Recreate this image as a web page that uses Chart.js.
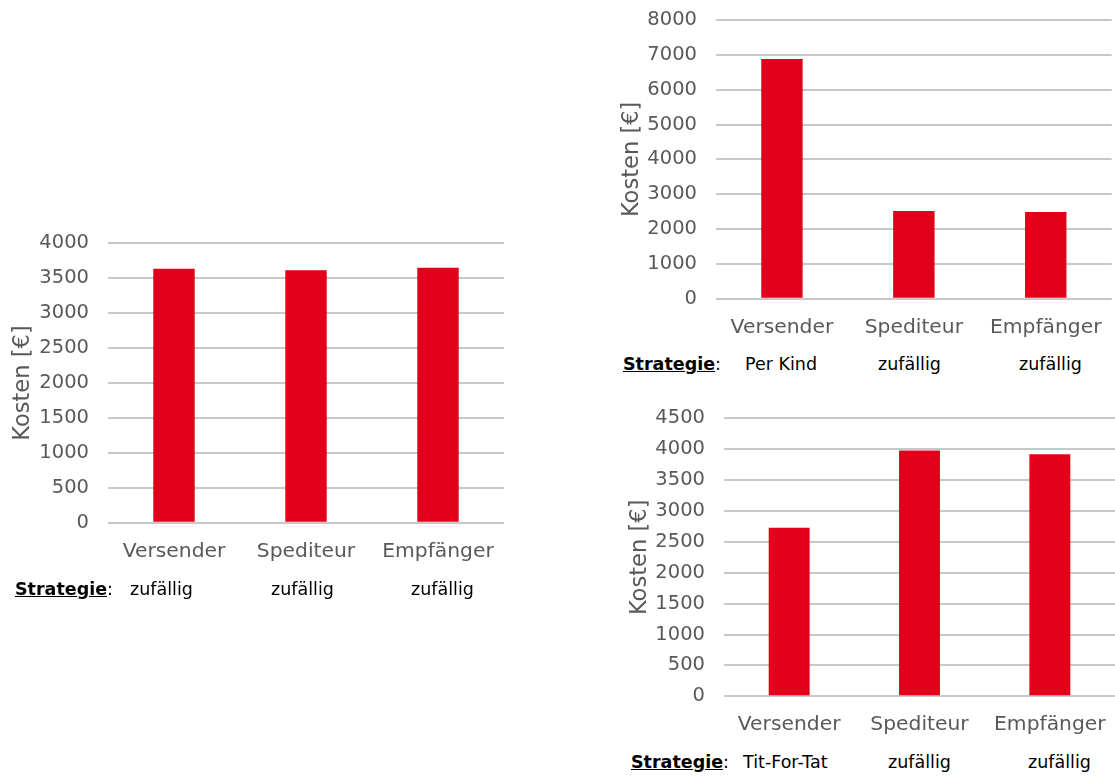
<!DOCTYPE html>
<html>
<head>
<meta charset="utf-8">
<title>Kosten je Akteur und Strategie</title>
<script src="https://cdn.jsdelivr.net/npm/chart.js@4/dist/chart.umd.min.js"></script>
<style>
  html, body { margin: 0; padding: 0; background: #ffffff; }
  body { position: relative; width: 1115px; height: 776px; overflow: hidden;
         font-family: "DejaVu Sans", Verdana, sans-serif; }
  canvas { position: absolute; }
  .strat { position: absolute; font-size: 17.5px; line-height: 20px; color: #000;
           white-space: nowrap; }
  .strat b { text-decoration: underline; }
</style>
</head>
<body>
<canvas id="chartZufall" width="510" height="400" style="left:0;top:200px;width:510px;height:400px"></canvas>
<canvas id="chartPerKind" width="505" height="345" style="left:610px;top:0;width:505px;height:345px"></canvas>
<canvas id="chartTitForTat" width="505" height="360" style="left:610px;top:390px;width:505px;height:360px"></canvas>

<script>
// Akteure der Lieferkette
const categories = ['Versender', 'Spediteur', 'Empfänger'];

// Kosten in Euro je Akteur, für drei Strategie-Kombinationen
const kostenZufall     = [3635, 3615, 3650];
const kostenPerKind    = [6880, 2520, 2490];
const kostenTitForTat  = [2730, 3980, 3920];

// Strategie je Akteur
const strategienZufall    = ['zufällig', 'zufällig', 'zufällig'];
const strategienPerKind   = ['Per Kind', 'zufällig', 'zufällig'];
const strategienTitForTat = ['Tit-For-Tat', 'zufällig', 'zufällig'];

// Achsenskalen (Maximum, Schrittweite)
const yMaxZufall = 4000,    yStepZufall = 500;
const yMaxPerKind = 8000,   yStepPerKind = 1000;
const yMaxTitForTat = 4500, yStepTitForTat = 500;

const FONT = '"DejaVu Sans", Verdana, sans-serif';
const GREY = '#595959';
const RED = '#e2001a';

// Geometrie der drei Diagramme
const panels = [
  { id: 'chartZufall', values: kostenZufall, strategies: strategienZufall,
    max: yMaxZufall, step: yStepZufall,
    axisWidth: 108, padTop: 43.3, padRight: 6, xHeight: 77.3, titlePad: 9.5,
    stratTop: 579, stratHead: 15, stratX: [130, 271, 411] },
  { id: 'chartPerKind', values: kostenPerKind, strategies: strategienPerKind,
    max: yMaxPerKind, step: yStepPerKind,
    axisWidth: 106, padTop: 20, padRight: 3.3, xHeight: 46.3, titlePad: 8.5,
    stratTop: 354, stratHead: 623, stratX: [745, 878, 1019] },
  { id: 'chartTitForTat', values: kostenTitForTat, strategies: strategienTitForTat,
    max: yMaxTitForTat, step: yStepTitForTat,
    axisWidth: 114, padTop: 28.3, padRight: 0, xHeight: 53.7, titlePad: 17,
    stratTop: 752, stratHead: 631, stratX: [743, 888, 1028] }
];

function addText(html, left, top) {
  const el = document.createElement('div');
  el.className = 'strat';
  el.innerHTML = html;
  el.style.left = left + 'px';
  el.style.top = top + 'px';
  document.body.appendChild(el);
}

panels.forEach(p => {
  new Chart(document.getElementById(p.id), {
    type: 'bar',
    data: {
      labels: categories,
      datasets: [{
        data: p.values,
        backgroundColor: RED,
        borderWidth: 0,
        barPercentage: 0.314,
        categoryPercentage: 1
      }]
    },
    options: {
      responsive: false,
      animation: false,
      devicePixelRatio: 1,
      layout: { padding: { top: p.padTop, right: p.padRight, left: 0, bottom: 0 } },
      plugins: { legend: { display: false }, tooltip: { enabled: false } },
      scales: {
        x: {
          grid: { display: false },
          border: { display: false },
          ticks: { color: GREY, font: { family: FONT, size: 20.3 }, padding: 8.6, maxRotation: 0 },
          afterFit(scale) { scale.height = p.xHeight; }
        },
        y: {
          min: 0,
          max: p.max,
          ticks: { stepSize: p.step, color: GREY, font: { family: FONT, size: 19.5 }, padding: 0,
                   callback: v => String(v) },
          grid: { color: '#c8c8c8', lineWidth: 2, drawTicks: true, tickLength: 19,
                  tickColor: 'rgba(0,0,0,0)' },
          border: { display: false },
          title: { display: true, text: 'Kosten [€]', color: GREY,
                   font: { family: FONT, size: 22.6 }, padding: { top: p.titlePad, bottom: 0 } },
          afterFit(scale) { scale.width = p.axisWidth; }
        }
      }
    }
  });

  addText('<b>Strategie</b>:', p.stratHead, p.stratTop);
  p.strategies.forEach((s, i) => addText(s, p.stratX[i], p.stratTop));
});
</script>
</body>
</html>
